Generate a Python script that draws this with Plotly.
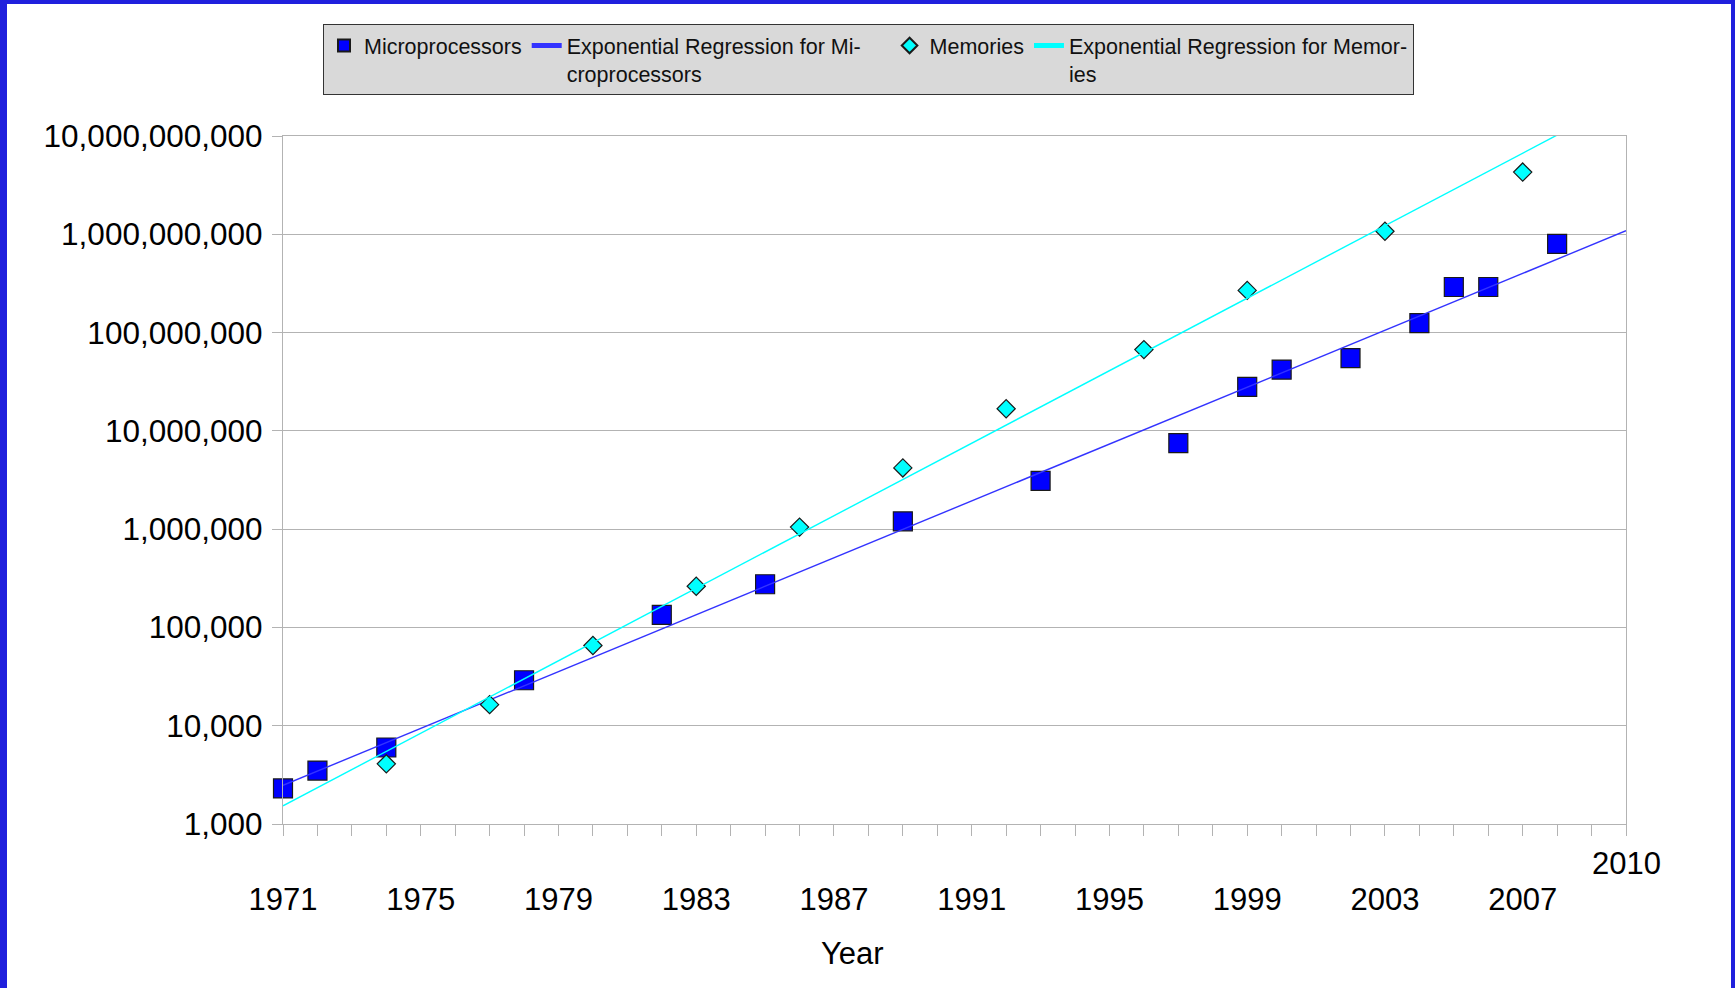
import numpy as np
import plotly.graph_objects as go

# ---- data ----
micro_years = [1971, 1972, 1974, 1978, 1982, 1985, 1989, 1993, 1997, 1999, 2000, 2002, 2004, 2005, 2006, 2008]
micro_counts = [2300, 3500, 6000, 29000, 134000, 275000, 1200000, 3100000, 7500000,
                28000000, 42000000, 55000000, 125000000, 291000000, 291000000, 800000000]
mem_years = [1974, 1977, 1980, 1983, 1986, 1989, 1992, 1996, 1999, 2003, 2007]
mem_counts = [4096, 16384, 65536, 262144, 1048576, 4194304, 16777216, 67108864,
              268435456, 1073741824, 4294967296]
y_tickvals = [1e3, 1e4, 1e5, 1e6, 1e7, 1e8, 1e9, 1e10]
y_ticktext = ["1,000", "10,000", "100,000", "1,000,000", "10,000,000",
              "100,000,000", "1,000,000,000", "10,000,000,000"]
x_tickvals = [1971, 1975, 1979, 1983, 1987, 1991, 1995, 1999, 2003, 2007]
x_range = [1971, 2010]

# exponential regressions (least squares in log space)
def exp_fit(xs, ys):
    b, a = np.polyfit(np.array(xs, float), np.log10(np.array(ys, float)), 1)
    xx = np.array(x_range, float)
    return xx, 10 ** (a + b * xx)

mx, my = exp_fit(micro_years, micro_counts)
ex, ey = exp_fit(mem_years, mem_counts)

FONT = "Liberation Sans, Arial, sans-serif"
NB = "\u00a0"

fig = go.Figure()
fig.add_trace(go.Scatter(x=micro_years, y=micro_counts, mode="markers",
                         name="Microprocessors",
                         marker=dict(symbol="square", size=19, color="#0000ff",
                                     line=dict(color="#1a1a1a", width=1.2)),
                         cliponaxis=False))
fig.add_trace(go.Scatter(x=mx, y=my, mode="lines",
                         name="Exponential Regression for Mi-" + NB * 4 + "<br>croprocessors",
                         line=dict(color="#3333ff", width=1.4)))
fig.add_trace(go.Scatter(x=mem_years, y=mem_counts, mode="markers",
                         name="Memories",
                         marker=dict(symbol="diamond", size=14, color="#00ffff",
                                     line=dict(color="#1a1a1a", width=1.2)),
                         cliponaxis=False))
fig.add_trace(go.Scatter(x=ex, y=ey, mode="lines",
                         name="Exponential Regression for Memor-<br>ies",
                         line=dict(color="#00ffff", width=1.4)))

L, R, T, B = 283, 109, 136, 164
W, H = 1735, 988
pw, ph = W - L - R, H - T - B

def px(xp):
    return (xp - L) / pw

def py(yp):
    return (H - B - yp) / ph

blue = "#2020dd"
shapes = [
    dict(type="rect", xref="paper", yref="paper", x0=px(0), x1=px(7), y0=py(H), y1=py(0),
         fillcolor=blue, line=dict(width=0), layer="above"),
    dict(type="rect", xref="paper", yref="paper", x0=px(0), x1=px(W), y0=py(4), y1=py(0),
         fillcolor=blue, line=dict(width=0), layer="above"),
    dict(type="rect", xref="paper", yref="paper", x0=px(1731), x1=px(W), y0=py(H), y1=py(0),
         fillcolor=blue, line=dict(width=0), layer="above"),
]

fig.update_layout(
    width=W, height=H,
    margin=dict(l=L, r=R, t=T, b=B, pad=0),
    paper_bgcolor="white", plot_bgcolor="white",
    shapes=shapes,
    showlegend=True,
    legend=dict(orientation="h", x=px(323), y=py(24), xanchor="left", yanchor="top",
                bgcolor="#d9d9d9", bordercolor="#333333", borderwidth=1,
                font=dict(family=FONT, size=21.5, color="#111111"),
                valign="top", itemsizing="constant"),
    annotations=[
        dict(text="Year", xref="paper", yref="paper", x=px(852), y=py(953),
             xanchor="center", yanchor="middle", showarrow=False,
             font=dict(family=FONT, size=31, color="black")),
        dict(text="2010", xref="x", yref="paper", x=2010, y=py(863),
             xanchor="center", yanchor="middle", showarrow=False,
             font=dict(family=FONT, size=31, color="black")),
    ],
)

fig.update_xaxes(range=x_range, tickvals=x_tickvals, ticktext=[str(v) for v in x_tickvals],
                 showgrid=False, zeroline=False,
                 showline=True, linecolor="#b3b3b3", linewidth=1.3, mirror=True,
                 ticks="outside", ticklen=11, tickcolor="#b3b3b3", tickwidth=1,
                 minor=dict(tick0=1971, dtick=1, ticks="outside", ticklen=11,
                            tickcolor="#b3b3b3", tickwidth=1, showgrid=False),
                 ticklabelstandoff=37,
                 tickfont=dict(family=FONT, size=31, color="black"))
fig.update_yaxes(type="log", range=[3, 10], tickvals=y_tickvals, ticktext=y_ticktext,
                 showgrid=True, gridcolor="#b3b3b3", gridwidth=1, zeroline=False,
                 showline=True, linecolor="#b3b3b3", linewidth=1.3, mirror=True,
                 ticks="outside", ticklen=10, tickcolor="#b3b3b3", tickwidth=1,
                 ticklabelstandoff=3,
                 tickfont=dict(family=FONT, size=31.5, color="black"))

fig.write_html("out.html", config={"displayModeBar": False},
               post_script="document.body.style.margin='0px';document.body.style.overflow='hidden';")
